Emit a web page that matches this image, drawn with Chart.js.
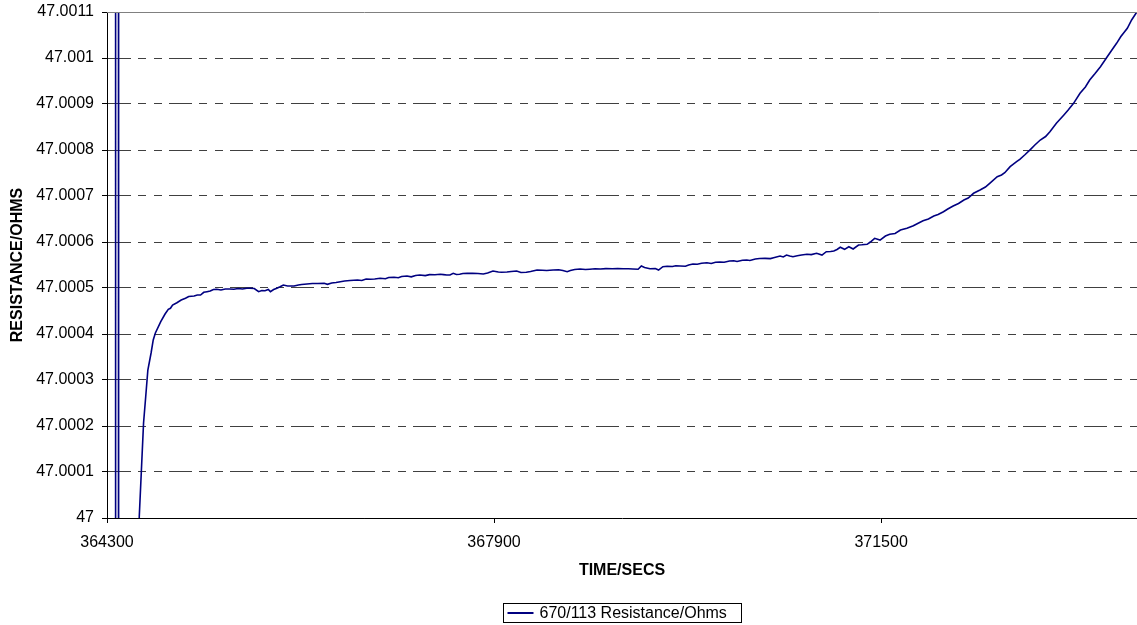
<!DOCTYPE html>
<html>
<head>
<meta charset="utf-8">
<script src="https://cdn.jsdelivr.net/npm/chart.js@4/dist/chart.umd.min.js"></script>
<style>
html,body{margin:0;padding:0;background:#fff;}
canvas{display:block;}
</style>
</head>
<body>
<canvas id="c" width="1137" height="625"></canvas>
<script>
const seriesLabel = '670/113 Resistance/Ohms';
const xTitle = 'TIME/SECS';
const yTitle = 'RESISTANCE/OHMS';

// off-scale readings at the start (drawn as the two vertical strokes)
const startTimes = [364378, 364380, 364406, 364408];
const startResistance = [46.98, 47.02, 47.02, 46.98];

const times = [
  364600, 364620, 364640, 364660, 364680, 364710, 364730, 364750, 364800, 364840,
  364870, 364890, 364910, 364950, 364990, 365030, 365060, 365110, 365140, 365170,
  365200, 365230, 365260, 365290, 365320, 365360, 365400, 365440, 365480, 365520,
  365560, 365600, 365630, 365670, 365710, 365740, 365770, 365800, 365820, 365850,
  365880, 365910, 365940, 365980, 366040, 366080, 366110, 366160, 366210, 366260,
  366320, 366350, 366390, 366430, 366470, 366510, 366560, 366630, 366670, 366710,
  366750, 366790, 366840, 366890, 366920, 366970, 367010, 367040, 367090, 367130,
  367170, 367210, 367260, 367300, 367350, 367400, 367430, 367460, 367490, 367520,
  367550, 367580, 367610, 367650, 367700, 367750, 367800, 367840, 367890, 367940,
  367970, 368020, 368060, 368110, 368150, 368200, 368240, 368300, 368350, 368390,
  368450, 368500, 368540, 368580, 368610, 368650, 368700, 368750, 368790, 368840,
  368890, 368940, 369000, 369050, 369100, 369150, 369190, 369240, 369270, 369300,
  369350, 369400, 369430, 369470, 369510, 369560, 369590, 369630, 369680, 369710,
  369750, 369790, 369830, 369880, 369920, 369960, 370000, 370040, 370090, 370130,
  370160, 370210, 370250, 370280, 370330, 370370, 370420, 370470, 370500, 370560,
  370590, 370620, 370650, 370680, 370720, 370760, 370810, 370850, 370900, 370950,
  370990, 371030, 371060, 371090, 371120, 371160, 371200, 371240, 371290, 371320,
  371370, 371400, 371440, 371490, 371540, 371580, 371630, 371680, 371740, 371800,
  371840, 371890, 371940, 371990, 372030, 372080, 372120, 372170, 372220, 372270,
  372310, 372360, 372420, 372470, 372510, 372580, 372620, 372650, 372700, 372760,
  372790, 372840, 372890, 372930, 372980, 373030, 373070, 373130, 373200, 373240,
  373290, 373350, 373400, 373440, 373490, 373540, 373600, 373640, 373690, 373730,
  373790, 373830, 373880
];

const resistance = [
  47.0000028, 47.0001043, 47.0002065, 47.0002637, 47.0003217, 47.0003587, 47.0003870, 47.0004022, 47.0004267, 47.0004435,
  47.0004537, 47.0004559, 47.0004630, 47.0004680, 47.0004739, 47.0004776, 47.0004815, 47.0004826, 47.0004848, 47.0004848,
  47.0004906, 47.0004920, 47.0004935, 47.0004967, 47.0004972, 47.0004956, 47.0004978, 47.0004978, 47.0004972, 47.0004989,
  47.0004978, 47.0004993, 47.0004993, 47.0004989, 47.0004920, 47.0004946, 47.0004941, 47.0004967, 47.0004920, 47.0004967,
  47.0004993, 47.0005028, 47.0005065, 47.0005043, 47.0005043, 47.0005065, 47.0005076, 47.0005087, 47.0005098, 47.0005098,
  47.0005102, 47.0005080, 47.0005109, 47.0005120, 47.0005137, 47.0005152, 47.0005163, 47.0005174, 47.0005163, 47.0005196,
  47.0005189, 47.0005196, 47.0005211, 47.0005200, 47.0005228, 47.0005233, 47.0005222, 47.0005250, 47.0005261, 47.0005243,
  47.0005272, 47.0005283, 47.0005270, 47.0005291, 47.0005287, 47.0005298, 47.0005291, 47.0005283, 47.0005283, 47.0005320,
  47.0005293, 47.0005298, 47.0005315, 47.0005320, 47.0005317, 47.0005315, 47.0005304, 47.0005326, 47.0005370, 47.0005348,
  47.0005341, 47.0005348, 47.0005359, 47.0005370, 47.0005337, 47.0005341, 47.0005359, 47.0005391, 47.0005385, 47.0005380,
  47.0005391, 47.0005396, 47.0005380, 47.0005354, 47.0005380, 47.0005402, 47.0005413, 47.0005402, 47.0005409, 47.0005417,
  47.0005413, 47.0005422, 47.0005417, 47.0005424, 47.0005420, 47.0005417, 47.0005413, 47.0005407, 47.0005478, 47.0005446,
  47.0005420, 47.0005424, 47.0005391, 47.0005463, 47.0005472, 47.0005467, 47.0005483, 47.0005478, 47.0005474, 47.0005500,
  47.0005522, 47.0005517, 47.0005539, 47.0005550, 47.0005533, 47.0005561, 47.0005565, 47.0005561, 47.0005587, 47.0005593,
  47.0005576, 47.0005604, 47.0005609, 47.0005598, 47.0005630, 47.0005641, 47.0005643, 47.0005639, 47.0005659, 47.0005696,
  47.0005674, 47.0005717, 47.0005696, 47.0005680, 47.0005700, 47.0005717, 47.0005733, 47.0005726, 47.0005754, 47.0005717,
  47.0005789, 47.0005793, 47.0005804, 47.0005837, 47.0005885, 47.0005841, 47.0005898, 47.0005848, 47.0005935, 47.0005939,
  47.0005950, 47.0006000, 47.0006080, 47.0006043, 47.0006130, 47.0006167, 47.0006185, 47.0006261, 47.0006298, 47.0006354,
  47.0006402, 47.0006463, 47.0006500, 47.0006565, 47.0006598, 47.0006659, 47.0006717, 47.0006783, 47.0006837, 47.0006913,
  47.0006956, 47.0007059, 47.0007130, 47.0007196, 47.0007276, 47.0007420, 47.0007456, 47.0007506, 47.0007637, 47.0007746,
  47.0007798, 47.0007902, 47.0008015, 47.0008109, 47.0008217, 47.0008293, 47.0008398, 47.0008580, 47.0008761, 47.0008869,
  47.0009015, 47.0009233, 47.0009370, 47.0009522, 47.0009663, 47.0009811, 47.0010015, 47.0010152, 47.0010319, 47.0010467,
  47.0010646, 47.0010826, 47.0011006
];

const xTickValues = [364300, 367900, 371500];
const xTickLabels = ['364300', '367900', '371500'];
const yTickValues = [47, 47.0001, 47.0002, 47.0003, 47.0004, 47.0005, 47.0006, 47.0007, 47.0008, 47.0009, 47.001, 47.0011];
const yTickLabels = ['47', '47.0001', '47.0002', '47.0003', '47.0004', '47.0005', '47.0006', '47.0007', '47.0008', '47.0009', '47.001', '47.0011'];
const xMin = 364300, xMax = 373880;
const yMin = 47, yMax = 47.0011;

const FONT = '"Liberation Sans", Arial, Helvetica, sans-serif';
Chart.defaults.font.family = FONT;
Chart.defaults.color = '#000';

const allTimes = startTimes.concat(times);
const allResistance = startResistance.concat(resistance);
const points = allTimes.map((t, i) => ({ x: t, y: allResistance[i] }));

const frameAndLegend = {
  id: 'frameAndLegend',
  afterDraw(chart) {
    const { ctx, chartArea: a } = chart;
    ctx.save();
    // plot-area top border
    ctx.strokeStyle = '#808080';
    ctx.lineWidth = 1;
    ctx.beginPath();
    ctx.moveTo(a.left, Math.round(a.top) + 0.5);
    ctx.lineTo(a.right, Math.round(a.top) + 0.5);
    ctx.stroke();
    // legend
    const ds = chart.data.datasets[0];
    ctx.font = '16px ' + FONT;
    const tw = ctx.measureText(ds.label).width;
    const padL = 4, sample = 26, gap = 6, padR = 15;
    const boxW = Math.round(padL + sample + gap + tw + padR);
    const cx = (a.left + a.right) / 2;
    const bx = Math.round(cx - boxW / 2) + 0.5;
    const bh = 19;
    const by = chart.height - 22 + 0.5;
    ctx.strokeStyle = '#000';
    ctx.lineWidth = 1;
    ctx.strokeRect(bx, by, boxW, bh);
    ctx.strokeStyle = ds.borderColor;
    ctx.lineWidth = 2;
    ctx.beginPath();
    ctx.moveTo(bx + padL, by + bh / 2);
    ctx.lineTo(bx + padL + sample, by + bh / 2);
    ctx.stroke();
    ctx.fillStyle = '#000';
    ctx.textBaseline = 'middle';
    ctx.textAlign = 'left';
    ctx.fillText(ds.label, bx + padL + sample + gap, by + bh / 2 + 1);
    ctx.restore();
  }
};

new Chart(document.getElementById('c').getContext('2d'), {
  type: 'line',
  data: {
    datasets: [{
      label: seriesLabel,
      data: points,
      borderColor: '#000080',
      borderWidth: 1.6,
      pointRadius: 0,
      tension: 0,
      fill: false,
      clip: 0
    }]
  },
  options: {
    responsive: false,
    animation: false,
    devicePixelRatio: 1,
    layout: { padding: { top: 12, right: 0, left: 0, bottom: 0 } },
    plugins: { legend: { display: false }, tooltip: { enabled: false } },
    scales: {
      x: {
        type: 'linear',
        min: xMin,
        max: xMax,
        afterBuildTicks: s => { s.ticks = xTickValues.map(v => ({ value: v })); },
        afterFit: s => { s.height = 107; s.paddingLeft = 0; s.paddingRight = 0; },
        ticks: {
          callback: (v, i) => xTickLabels[i],
          font: { size: 16 },
          padding: 10,
          maxRotation: 0,
          autoSkip: false
        },
        grid: { drawOnChartArea: false, drawTicks: true, tickLength: 5, tickColor: '#000', color: '#000' },
        border: { color: '#000', width: 1 },
        title: { display: true, text: xTitle, font: { size: 16, weight: 'bold' }, padding: { top: 0, bottom: 45 } }
      },
      y: {
        type: 'linear',
        min: yMin,
        max: yMax,
        afterBuildTicks: s => { s.ticks = yTickValues.map(v => ({ value: v })); },
        afterFit: s => { s.width = 107; s.paddingTop = 0; s.paddingBottom = 0; },
        ticks: {
          callback: (v, i) => yTickLabels[i],
          font: { size: 16 },
          padding: 8,
          autoSkip: false
        },
        grid: {
          color: c => (c.index === yTickValues.length - 1 ? 'rgba(0,0,0,0)' : '#404040'),
          tickColor: '#000',
          tickLength: 5,
          drawTicks: true
        },
        border: { color: '#000', width: 1, dash: [23, 7, 8, 8, 8, 7] },
        title: { display: true, text: yTitle, font: { size: 16, weight: 'bold' }, padding: { top: 8, bottom: 0 } }
      }
    }
  },
  plugins: [frameAndLegend]
});
</script>
</body>
</html>
